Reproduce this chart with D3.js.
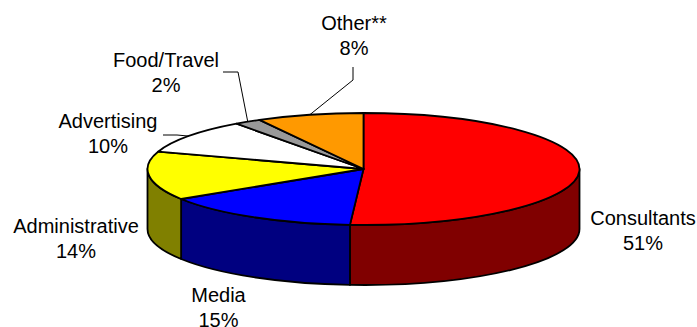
<!DOCTYPE html>
<html><head><meta charset="utf-8">
<script src="https://cdn.jsdelivr.net/npm/d3@7"></script>
<style>
body{margin:0;background:#fff}
text{font-family:"Liberation Sans",Arial,sans-serif;font-size:20px;fill:#000}
</style>
</head><body>
<svg id="c" width="697" height="327"></svg>
<script>
// ---- data ----
const categories = ["Consultants", "Media", "Administrative", "Advertising", "Food/Travel", "Other**"];
const percents = [51, 15, 14, 10, 2, 8];
const percentLabels = ["51%", "15%", "14%", "10%", "2%", "8%"];
const topColors = ["#ff0000", "#0000ff", "#ffff00", "#ffffff", "#999999", "#ff9900"];
const sideColors = ["#800000", "#000080", "#808000", "#808080", "#4d4d4d", "#804d00"];

// ---- layout ----
const W = 697, H = 327;
const cx = 363.5, cy = 169, rx = 216, ry = 56, depth = 60;
// label anchors (first-line baseline) and leader elbows
const labelPos = [
  {x: 643, y: 225, leader: null},
  {x: 218.5, y: 302, leader: null},
  {x: 76, y: 233, leader: null},
  {x: 108, y: 128, leader: [[163, 135], [177, 135]]},
  {x: 166, y: 67, leader: [[223, 72], [238, 72]]},
  {x: 354, y: 29.5, leader: [[353, 67], [353, 80]]}
];
const lineGap = 25;

const svg = d3.select("#c");
const pie = d3.pie().sort(null).value(d => d).startAngle(0).endAngle(2 * Math.PI);
const arcs = pie(percents);

const pt = (a, dy = 0) => [cx + rx * Math.sin(a), cy - ry * Math.cos(a) + dy];

function sidePath(a0, a1) {
  const s = Math.max(a0, Math.PI / 2), e = Math.min(a1, 3 * Math.PI / 2);
  if (s >= e) return null;
  const p = d3.path();
  const t0 = pt(s), t1 = pt(e), b1 = pt(e, depth), b0 = pt(s, depth);
  const large = (e - s) > Math.PI ? 1 : 0;
  return `M${t0}A${rx},${ry} 0 ${large} 1 ${t1}L${b1}A${rx},${ry} 0 ${large} 0 ${b0}Z`;
}
function topPath(a0, a1) {
  const p0 = pt(a0), p1 = pt(a1);
  const large = (a1 - a0) > Math.PI ? 1 : 0;
  return `M${cx},${cy}L${p0}A${rx},${ry} 0 ${large} 1 ${p1}Z`;
}

// sides
svg.append("g").selectAll("path")
  .data(arcs.filter(d => sidePath(d.startAngle, d.endAngle)))
  .join("path")
  .attr("d", d => sidePath(d.startAngle, d.endAngle))
  .attr("fill", d => sideColors[d.index])
  .attr("stroke", "#000").attr("stroke-width", 1.8).attr("stroke-linejoin", "round");

// tops
svg.append("g").selectAll("path")
  .data(arcs)
  .join("path")
  .attr("d", d => topPath(d.startAngle, d.endAngle))
  .attr("fill", d => topColors[d.index])
  .attr("stroke", "#000").attr("stroke-width", 1.8).attr("stroke-linejoin", "round");

// leader lines
const line = d3.line();
svg.append("g").selectAll("path")
  .data(arcs.filter(d => labelPos[d.index].leader))
  .join("path")
  .attr("d", d => line([...labelPos[d.index].leader, pt((d.startAngle + d.endAngle) / 2)]))
  .attr("fill", "none").attr("stroke", "#000").attr("stroke-width", 1);

// labels
const lg = svg.append("g").selectAll("text")
  .data(arcs)
  .join("text")
  .attr("text-anchor", "middle")
  .attr("x", d => labelPos[d.index].x)
  .attr("y", d => labelPos[d.index].y);
lg.append("tspan").text(d => categories[d.index]);
lg.append("tspan").attr("x", d => labelPos[d.index].x).attr("dy", lineGap).text(d => percentLabels[d.index]);
</script>
</body></html>
